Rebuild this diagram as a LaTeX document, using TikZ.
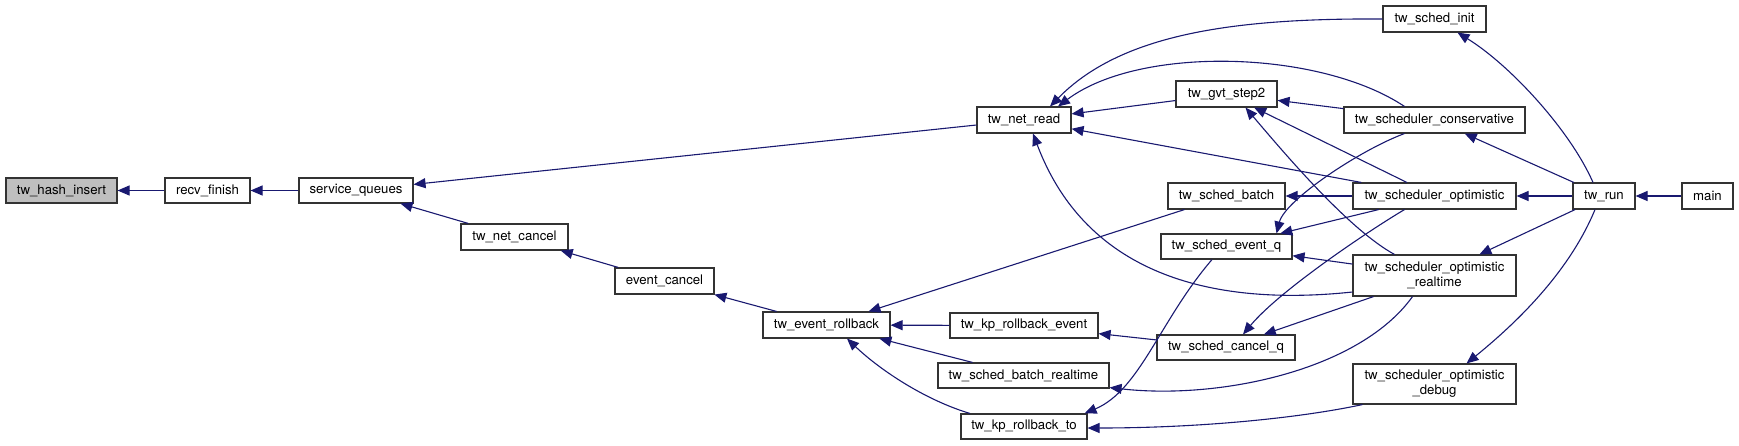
\documentclass[tikz,border=0pt]{standalone}
\usepackage{fontspec}
\setmainfont{TeX Gyre Heros}
\usetikzlibrary{arrows.meta,calc}
\definecolor{edgeblue}{HTML}{191970}
\definecolor{hashgray}{HTML}{BFBFBF}
\definecolor{boxline}{HTML}{333333}
\tikzset{
  fbox/.style={draw=boxline, line width=0.55pt, inner sep=0pt, align=center,
    font=\fontsize{6.6pt}{7.5pt}\selectfont, fill=white},
  e/.style={draw=edgeblue, line width=0.55pt, -{Triangle[length=6pt,width=5pt]}},
}
\begin{document}
\begin{tikzpicture}[x=0.5pt,y=-0.5pt]
\useasboundingbox (0,0) rectangle (1739,445);
% nodes
\node[fbox, fill=hashgray, minimum width=55.5pt, minimum height=12.5pt] (hash) at (61.5,190.5) {tw\_hash\_insert};
\node[fbox, minimum width=42.5pt, minimum height=12.5pt] (recv) at (207.5,190.5) {recv\_finish};
\node[fbox, minimum width=57pt, minimum height=12.5pt] (svc) at (356,190.5) {service\_queues};
\node[fbox, minimum width=53.5pt, minimum height=13pt] (netcancel) at (514.5,237) {tw\_net\_cancel};
\node[fbox, minimum width=49.5pt, minimum height=13pt] (evcancel) at (664.5,281) {event\_cancel};
\node[fbox, minimum width=63.5pt, minimum height=13pt] (evrb) at (826.5,325) {tw\_event\_rollback};
\node[fbox, minimum width=47pt, minimum height=13pt] (netread) at (1024,120) {tw\_net\_read};
\node[fbox, minimum width=74pt, minimum height=12.5pt] (kpre) at (1024,325.5) {tw\_kp\_rollback\_event};
\node[fbox, minimum width=85.5pt, minimum height=12.5pt] (sbrt) at (1023.5,375.5) {tw\_sched\_batch\_realtime};
\node[fbox, minimum width=63pt, minimum height=12.5pt] (kprt) at (1024,426.5) {tw\_kp\_rollback\_to};
\node[fbox, minimum width=50.5pt, minimum height=13pt] (gvt) at (1226.5,94) {tw\_gvt\_step2};
\node[fbox, minimum width=58.5pt, minimum height=13pt] (sbatch) at (1226.5,196) {tw\_sched\_batch};
\node[fbox, minimum width=65.5pt, minimum height=12.5pt] (seq) at (1226.5,246.5) {tw\_sched\_event\_q};
\node[fbox, minimum width=69pt, minimum height=12.5pt] (scq) at (1226,347.5) {tw\_sched\_cancel\_q};
\node[fbox, minimum width=51.5pt, minimum height=13pt] (init) at (1434.5,19) {tw\_sched\_init};
\node[fbox, minimum width=90.5pt, minimum height=13pt] (cons) at (1434.5,120) {tw\_scheduler\_conservative};
\node[fbox, minimum width=81.5pt, minimum height=13pt] (opt) at (1434.5,196) {tw\_scheduler\_optimistic};
\node[fbox, minimum width=81.5pt, minimum height=20.5pt] (optrt) at (1434.5,275.5) {tw\_scheduler\_optimistic\\\_realtime};
\node[fbox, minimum width=81.5pt, minimum height=20pt] (optdbg) at (1434.5,384) {tw\_scheduler\_optimistic\\\_debug};
\node[fbox, minimum width=31pt, minimum height=13pt] (run) at (1604,196) {tw\_run};
\node[fbox, minimum width=25.5pt, minimum height=13pt] (main) at (1707.5,196) {main};
% edges (caller -> callee)
\draw[e] (recv) -- (hash);
\draw[e] (svc) -- (recv);
\draw[e] (netread) -- (svc);
\draw[e] (netcancel) -- (svc);
\draw[e] (evcancel) -- (netcancel);
\draw[e] (evrb) -- (evcancel);
\draw[e] (sbatch) -- (evrb);
\draw[e] (kpre) -- (evrb);
\draw[e] (sbrt) -- (evrb);
\draw[e] ($(kprt.north)+(-54,0)$) .. controls (925,400) and (880,370) .. ($(evrb.south)+(20.5,0)$);
\draw[e] (init.west) .. controls (1230,18) and (1120,35) .. ($(netread.north)+(26,0)$);
\draw[e] ($(cons.north)+(-30,0)$) .. controls (1320,50) and (1140,45) .. ($(netread.north)+(34,0)$);
\draw[e] (gvt) -- (netread);
\draw[e] (opt) -- (netread);
\draw[e] ($(optrt.west)+(0,16.5)$) .. controls (1230,305) and (1090,285) .. ($(netread.south)+(9,0)$);
\draw[e] (cons) -- (gvt);
\draw[e] (opt) -- (gvt);
\draw[e] ($(optrt.north)+(-40,0)$) .. controls (1350,230) and (1290,160) .. ($(gvt.south)+(19,0)$);
\draw[e] (opt) -- (sbatch);
\draw[e] ($(cons.south)+(-30,0)$) .. controls (1360,150) and (1285,200) .. ($(seq.north)+(50,0)$);
\draw[e] (opt) -- (seq);
\draw[e] (optrt) -- (seq);
\draw[e] ($(opt.south)+(-30,0)$) .. controls (1370,230) and (1280,290) .. ($(scq.north)+(17,0)$);
\draw[e] (optrt) -- (scq);
\draw[e] (scq) -- (kpre);
\draw[e] ($(seq.south)+(-14.5,0)$) .. controls (1160,320) and (1140,390) .. ($(kprt.north east)+(-3,0)$);
\draw[e] ($(optrt.south)+(-22,0)$) .. controls (1360,370) and (1220,400) .. ($(sbrt.south east)+(0,-1)$);
\draw[e] ($(optdbg.south)+(-72,0)$) .. controls (1300,418) and (1200,428) .. ($(kprt.east)+(0,1.5)$);
\draw[e] ($(run.north)+(-11,0)$) .. controls (1570,130) and (1510,65) .. ($(init.south)+(23,0)$);
\draw[e] (run) -- (cons);
\draw[e] (run) -- (opt);
\draw[e] (run) -- (optrt);
\draw[e] ($(run.south)+(-9,0)$) .. controls (1570,270) and (1520,320) .. ($(optdbg.north)+(32,0)$);
\draw[e] (main) -- (run);
\end{tikzpicture}
\end{document}
